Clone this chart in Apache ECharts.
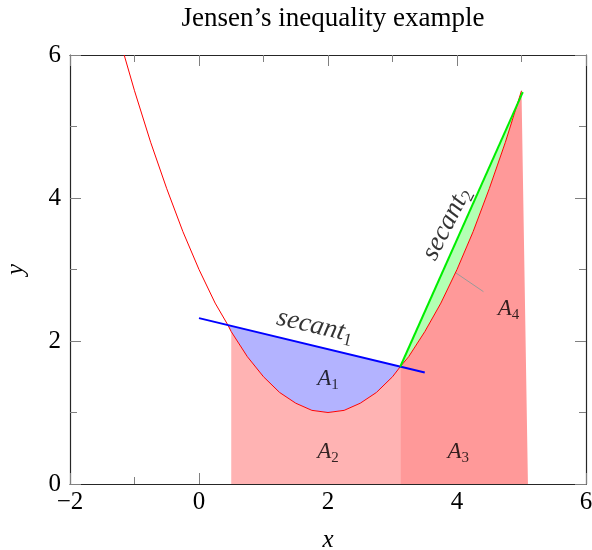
<!DOCTYPE html>
<html>
<head>
<meta charset="utf-8">
<script src="https://cdn.jsdelivr.net/npm/echarts@6/dist/echarts.min.js"></script>
<style>
  html, body { margin: 0; padding: 0; background: #fff; }
  #chart { width: 592px; height: 550px; }
</style>
</head>
<body>
<div id="chart"></div>
<script>
// f(x)
const curveX = [-1.16, -1, -0.75, -0.5, -0.25, 0, 0.25, 0.45, 0.5, 0.75, 1, 1.25, 1.5, 1.75, 2,
                2.25, 2.5, 2.75, 3, 3.12, 3.25, 3.5, 3.75, 4, 4.25, 4.5, 4.75, 5];
const curveY = [6.0, 5.5, 4.78, 4.13, 3.53, 3.0, 2.53, 2.22, 2.13, 1.78, 1.5, 1.28, 1.13, 1.03, 1.0,
                1.03, 1.13, 1.28, 1.5, 1.64, 1.78, 2.13, 2.53, 3.0, 3.53, 4.13, 4.78, 5.5];

const secant1X = [0, 3.5];
const secant1Y = [2.32, 1.56];
const secant2X = [3.12, 5.02];
const secant2Y = [1.64, 5.48];

// region edges
const a1From = 0.45;      // secant1 meets the curve
const a2From = 0.5;
const split = 3.12;       // A2 | A3
const a3End = 5;
const a3Foot = 5.1;       // bottom right corner of A3

const annotX = [3.97, 4.41];
const annotY = [2.96, 2.69];

const labels = [
  { x: 2.0, y: 1.47, text: '{v|A}{s|1}', rotate: 0 },
  { x: 2.0, y: 0.45, text: '{v|A}{s|2}', rotate: 0 },
  { x: 4.02, y: 0.45, text: '{v|A}{s|3}', rotate: 0 },
  { x: 4.80, y: 2.45, text: '{v|A}{s|4}', rotate: 0 },
  { x: 1.80, y: 2.21, text: '{w|secant}{t|1}', rotate: -13 },
  { x: 3.84, y: 3.64, text: '{w|secant}{t|2}', rotate: 63 }
];

const xTicks = { min: -2, max: 6, step: 2 };
const yTicks = { min: 0, max: 6, step: 2 };

const FONT = '"Liberation Serif", "DejaVu Serif", serif';

function curveBetween(a, b) {
  const pts = [];
  curveX.forEach((x, i) => {
    if (x >= a - 1e-9 && x <= b + 1e-9) pts.push([x, curveY[i]]);
  });
  return pts;
}

const a2Poly = [[a2From, 0], ...curveBetween(a2From, split), [split, 0]];
const a3Poly = [[split, 0], ...curveBetween(split, a3End), [a3Foot, 0]];
const a1Poly = [[a1From, curveY[curveX.indexOf(a1From)]], [split, curveY[curveX.indexOf(split)]],
                ...curveBetween(a1From, split).reverse()];
const a4Poly = [[secant2X[0], secant2Y[0]], [secant2X[1], secant2Y[1]],
                ...curveBetween(split, a3End).reverse()];

function polygonSeries(poly, color) {
  return {
    type: 'custom',
    coordinateSystem: 'cartesian2d',
    silent: true,
    data: [[0, 0]],
    renderItem: (params, api) => ({
      type: 'polygon',
      shape: { points: poly.map(p => api.coord(p)) },
      style: { fill: color, stroke: 'none' }
    }),
    z: 1
  };
}

function lineSeries(xs, ys, color, width) {
  return {
    type: 'line',
    data: xs.map((x, i) => [x, ys[i]]),
    symbol: 'none',
    silent: true,
    lineStyle: { color, width },
    z: 3
  };
}

const chartDom = document.getElementById('chart');
const myChart = echarts.init(chartDom, null, { renderer: 'canvas' });

const axisLineStyle = { color: '#262626', width: 1.2 };
const tickStyle = { color: '#808080', width: 1 };
const fmt = v => (v < 0 ? '\u2212' + Math.abs(v) : String(v));

function xAxisDef(position, showLabels) {
  return {
    type: 'value', position,
    min: xTicks.min, max: xTicks.max, interval: xTicks.step,
    name: showLabels ? 'x' : '', nameLocation: 'middle', nameGap: 44,
    nameTextStyle: { fontFamily: FONT, fontStyle: 'italic', fontSize: 25, color: '#000' },
    axisLine: { show: true, onZero: false, lineStyle: axisLineStyle },
    axisTick: { show: true, inside: true, length: 11, lineStyle: tickStyle },
    minorTick: { show: true, splitNumber: 2, length: 7, lineStyle: tickStyle },
    axisLabel: { show: showLabels, formatter: fmt, margin: 6, fontFamily: FONT, fontSize: 25, color: '#000' },
    splitLine: { show: false }
  };
}
function yAxisDef(position, showLabels) {
  return {
    type: 'value', position,
    min: yTicks.min, max: yTicks.max, interval: yTicks.step,
    name: showLabels ? 'y' : '', nameLocation: 'middle', nameGap: 41,
    nameTextStyle: { fontFamily: FONT, fontStyle: 'italic', fontSize: 25, color: '#000' },
    axisLine: { show: true, onZero: false, lineStyle: axisLineStyle },
    axisTick: { show: true, inside: true, length: 11, lineStyle: tickStyle },
    minorTick: { show: true, splitNumber: 2, length: 7, lineStyle: tickStyle },
    axisLabel: { show: showLabels, formatter: fmt, margin: 9, fontFamily: FONT, fontSize: 25, color: '#000' },
    splitLine: { show: false }
  };
}

const option = {
  backgroundColor: '#fff',
  animation: false,
  title: {
    text: 'Jensen\u2019s inequality example',
    left: 328, top: 0, textAlign: 'center',
    textStyle: { fontFamily: FONT, fontWeight: 'normal', fontSize: 27, color: '#000' }
  },
  grid: { left: 70, right: 6, top: 55, bottom: 66, containLabel: false, outerBoundsMode: 'none' },
  xAxis: [xAxisDef('bottom', true), xAxisDef('top', false)],
  yAxis: [yAxisDef('left', true), yAxisDef('right', false)],
  series: [
    polygonSeries(a2Poly, '#ffb3b3'),
    polygonSeries(a3Poly, '#ff9999'),
    polygonSeries(a1Poly, '#b3b3ff'),
    polygonSeries(a4Poly, '#b3ffb3'),
    lineSeries(annotX, annotY, '#999', 1),
    lineSeries(curveX, curveY, '#ff0000', 1),
    lineSeries(secant1X, secant1Y, '#0000ff', 2),
    lineSeries(secant2X, secant2Y, '#00ee00', 2),
    {
      type: 'scatter',
      symbolSize: 0,
      silent: true,
      z: 5,
      data: labels.map(l => ({
        value: [l.x, l.y],
        label: { rotate: l.rotate, formatter: l.text }
      })),
      label: {
        show: true,
        position: 'inside',
        align: 'center',
        verticalAlign: 'middle',
        color: '#000',
        rich: {
          v: { fontFamily: FONT, fontStyle: 'italic', fontSize: 23, lineHeight: 28, color: '#000' },
          s: { fontFamily: FONT, fontSize: 15, lineHeight: 15, verticalAlign: 'bottom', color: '#000' },
          w: { fontFamily: FONT, fontStyle: 'italic', fontSize: 27, lineHeight: 32, color: '#000' },
          t: { fontFamily: FONT, fontSize: 18, lineHeight: 18, verticalAlign: 'bottom', color: '#000' }
        }
      }
    }
  ]
};

myChart.setOption(option);
window.addEventListener('resize', () => myChart.resize());
</script>
</body>
</html>
